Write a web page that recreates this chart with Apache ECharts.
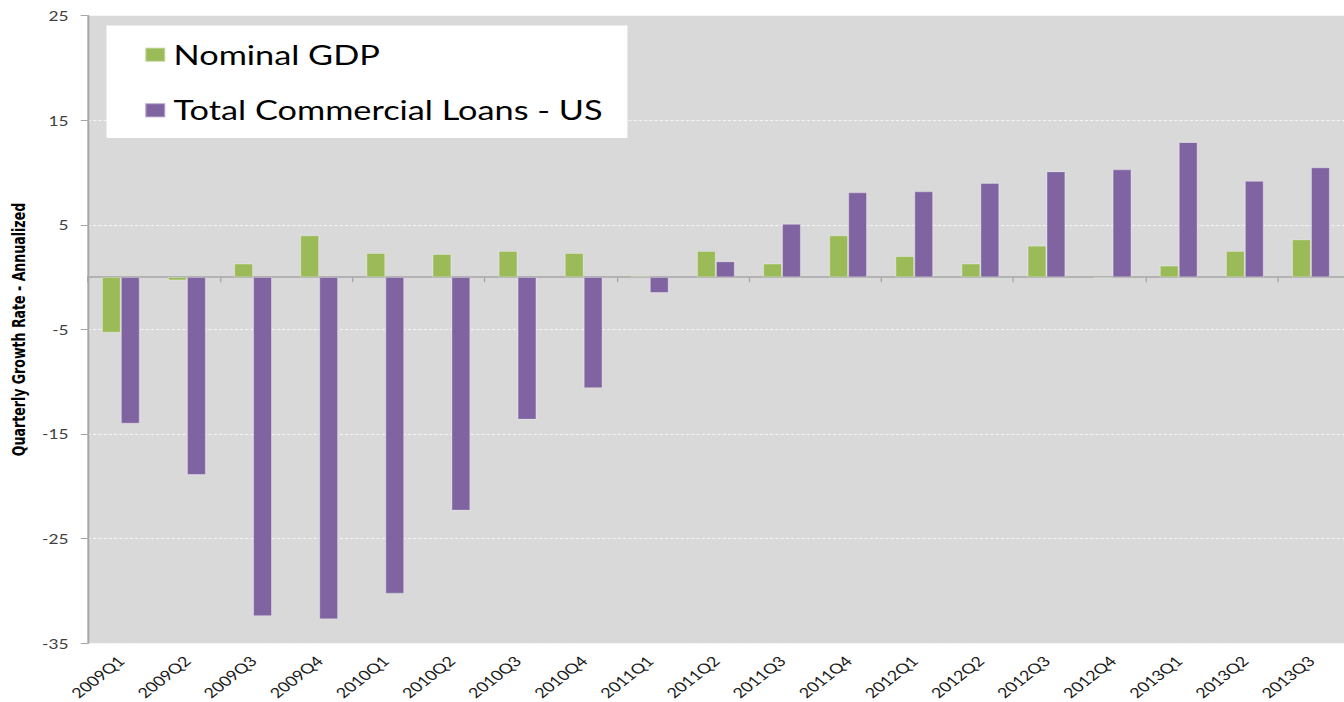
<!DOCTYPE html>
<html>
<head>
<meta charset="utf-8">
<script src="https://cdn.jsdelivr.net/npm/echarts@6/dist/echarts.min.js"></script>
<style>
html,body{margin:0;padding:0;background:#fff;}
#wrap{width:1344px;height:702px;overflow:hidden;position:relative;}
#chart{width:1050px;height:702px;transform:scaleX(1.28);transform-origin:0 0;}
</style>
</head>
<body>
<div id="wrap"><div id="chart"></div></div>
<script>
const categories = ['2009Q1','2009Q2','2009Q3','2009Q4','2010Q1','2010Q2','2010Q3','2010Q4','2011Q1','2011Q2','2011Q3','2011Q4','2012Q1','2012Q2','2012Q3','2012Q4','2013Q1','2013Q2','2013Q3'];
const nominalGDP = [-5.3,-0.3,1.3,4.0,2.3,2.2,2.5,2.3,0.1,2.5,1.3,4.0,2.0,1.3,3.0,-0.1,1.1,2.5,3.6];
const commercialLoans = [-14.0,-18.9,-32.4,-32.7,-30.25,-22.3,-13.6,-10.6,-1.5,1.5,5.1,8.1,8.2,9.0,10.1,10.3,12.9,9.2,10.5];
const seriesNames = ['Nominal GDP','Total Commercial Loans - US'];
const yTicks = {min:-35, max:25, interval:10};

const chart = echarts.init(document.getElementById('chart'), null, {renderer:'svg'});
const font = 'Lato, "Open Sans", sans-serif';
chart.setOption({
  animation:false,
  backgroundColor:'#ffffff',
  grid:{left:66.4, right:-7, top:15.7, bottom:58, show:true, backgroundColor:'#d9d9d9', borderWidth:0, containLabel:false},
  graphic:[{type:'rect', z:10, shape:{x:83.2, y:25.5, width:407, height:112.5}, style:{fill:'#ffffff'}}],
  legend:{
    z:20, orient:'vertical', left:107.5, top:34.7, itemWidth:15.6, itemHeight:14, itemGap:25.6,
    data:seriesNames, icon:'rect',
    textStyle:{fontFamily:font, fontSize:26.8, color:'#000', lineHeight:30, padding:[0,0,0,1.5]}
  },
  xAxis:[
    {type:'category', data:categories, position:'bottom',
     axisLine:{onZero:true, lineStyle:{color:'#a6a6a6', width:1.5}},
     axisTick:{show:true, length:5, lineStyle:{color:'#a6a6a6'}},
     axisLabel:{show:false}, splitLine:{show:false}},
    {type:'category', data:categories, position:'bottom',
     axisLine:{show:false, onZero:false}, axisTick:{show:false},
     axisLabel:{rotate:45, margin:15, fontFamily:font, fontSize:14, color:'#1a1a1a', interval:0},
     splitLine:{show:false}}
  ],
  yAxis:{
    type:'value', min:yTicks.min, max:yTicks.max, interval:yTicks.interval,
    name:'Quarterly Growth Rate - Annualized', nameLocation:'middle', nameRotate:90, nameGap:39.5,
    nameTextStyle:{fontFamily:'"Liberation Sans Narrow", "DejaVu Sans Condensed", sans-serif', fontWeight:'bold', fontSize:14, color:'#000'},
    axisLine:{show:true, lineStyle:{color:'#a6a6a6', width:1.5}},
    axisTick:{show:true, length:5.5, lineStyle:{color:'#a6a6a6'}},
    axisLabel:{margin:15, fontFamily:font, fontSize:13.5, color:'#404040'},
    splitLine:{show:true, lineStyle:{color:'#f4f4f4', type:[2.5,1.6], width:1}}
  },
  series:[
    {name:seriesNames[0], type:'bar', data:nominalGDP, xAxisIndex:0, barWidth:14.8, barGap:'0%',
     itemStyle:{color:'#9bbb59', borderColor:'rgba(255,255,255,0.35)', borderWidth:0.8}},
    {name:seriesNames[1], type:'bar', data:commercialLoans, xAxisIndex:0, barWidth:14.8, barGap:'0%',
     itemStyle:{color:'#8064a2', borderColor:'rgba(255,255,255,0.35)', borderWidth:0.8}}
  ]
});
</script>
</body>
</html>
